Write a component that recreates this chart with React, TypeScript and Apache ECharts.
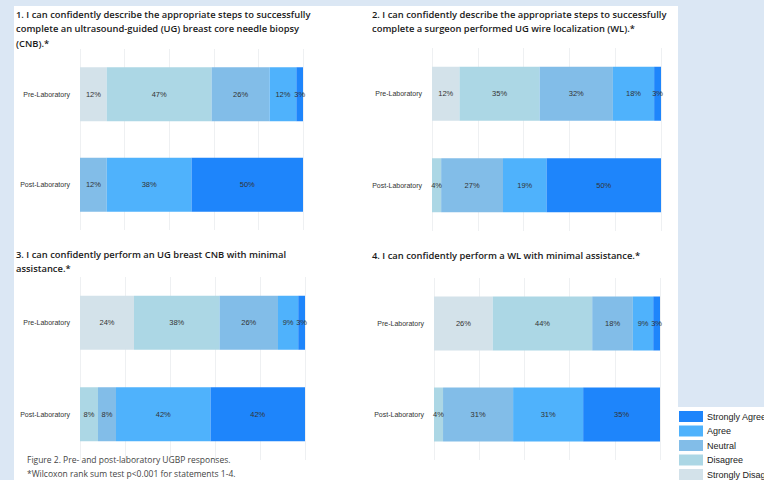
import React, { useEffect, useRef } from "react";
import * as echarts from "echarts";

const categories = ["Pre-Laboratory", "Post-Laboratory"];
const levels = ["Strongly Disagree", "Disagree", "Neutral", "Agree", "Strongly Agree"];
const legendOrder = ["Strongly Agree", "Agree", "Neutral", "Disagree", "Strongly Disagree"];
const levelColors = ["#d3e2ea", "#acd7e5", "#82bde8", "#4fb2fc", "#1e85fb"];

// values per level (SD, D, N, A, SA)
const q1Pre = [12, 47, 26, 12, 3];
const q1Post = [0, 0, 12, 38, 50];
const q2Pre = [12, 35, 32, 18, 3];
const q2Post = [0, 4, 27, 19, 50];
const q3Pre = [24, 38, 26, 9, 3];
const q3Post = [0, 8, 8, 42, 42];
const q4Pre = [26, 44, 18, 9, 3];
const q4Post = [0, 4, 31, 31, 35];

const titles = [
  "1. I can confidently describe the appropriate steps to successfully\ncomplete an ultrasound-guided (UG) breast core needle biopsy\n(CNB).*",
  "2. I can confidently describe the appropriate steps to successfully\ncomplete a surgeon performed UG wire localization (WL).*",
  "3. I can confidently perform an UG breast CNB with minimal\nassistance.*",
  "4. I can confidently perform a WL with minimal assistance.*",
];
const caption = "Figure 2. Pre- and post-laboratory UGBP responses.\n*Wilcoxon rank sum test p<0.001 for statements 1-4.";

const questions = [
  { pre: q1Pre, post: q1Post },
  { pre: q2Pre, post: q2Post },
  { pre: q3Pre, post: q3Post },
  { pre: q4Pre, post: q4Post },
];

const gridDefs = [
  { left: 80, width: 223, top: 49, height: 181 },
  { left: 432, width: 229, top: 48, height: 183 },
  { left: 80, width: 225, top: 277, height: 183 },
  { left: 434, width: 226, top: 278, height: 182 },
];
const titlePos = [
  { left: 16, top: 7 },
  { left: 372, top: 7 },
  { left: 16, top: 247 },
  { left: 372, top: 248 },
];

const FONT = "'Liberation Sans', Arial, sans-serif";
const TITLE_FONT = "'Open Sans', sans-serif";

export default function App() {
  const ref = useRef<HTMLDivElement>(null);
  useEffect(() => {
    if (!ref.current) return;
    const chart = echarts.init(ref.current, null, { renderer: "svg" });
    const series: any[] = [];
    questions.forEach((q, gi) => {
      levels.forEach((lv, li) => {
        series.push({
          name: lv,
          type: "bar",
          stack: "s" + gi,
          xAxisIndex: gi,
          yAxisIndex: gi,
          barWidth: 54,
          itemStyle: { color: levelColors[li] },
          label: {
            show: true,
            position: "inside",
            fontSize: 7.5,
            color: "#333",
            fontFamily: FONT,
            formatter: (p: any) => (p.value > 0 ? p.value + "%" : ""),
          },
          data: [q.pre[li], q.post[li]],
        });
      });
    });
    chart.setOption({
      animation: false,
      backgroundColor: "#dbe7f4",
      graphic: [
        { type: "rect", shape: { x: 14, y: 6, width: 664, height: 474 }, style: { fill: "#ffffff" }, z: -10 },
        { type: "rect", shape: { x: 678, y: 407, width: 86, height: 73 }, style: { fill: "#ffffff" }, z: -10 },
      ],
      title: [
        ...titles.map((t, i) => ({
          text: t,
          left: titlePos[i].left,
          top: titlePos[i].top,
          padding: 0,
          textStyle: { fontSize: 9.4, fontWeight: 600, lineHeight: 14.5, color: "#1a1a1a", fontFamily: TITLE_FONT },
        })),
        {
          text: caption,
          left: 27,
          top: 453,
          padding: 0,
          textStyle: { fontSize: 8.5, fontWeight: "normal", lineHeight: 13.5, color: "#444", fontFamily: TITLE_FONT },
        },
      ],
      legend: {
        data: legendOrder,
        orient: "vertical",
        left: 679,
        top: 411,
        padding: 0,
        itemWidth: 24,
        itemHeight: 11,
        itemGap: 3.5,
        icon: "rect",
        selectedMode: false,
        textStyle: { fontSize: 9, color: "#222", fontFamily: FONT, padding: [0, 0, 0, -1] },
      },
      grid: gridDefs.map((g) => ({ ...g, containLabel: false })),
      xAxis: gridDefs.map((_, i) => ({
        type: "value",
        gridIndex: i,
        min: 0,
        max: 100,
        interval: 20,
        axisLabel: { show: false },
        axisLine: { show: false },
        axisTick: { show: false },
        splitLine: { show: true, lineStyle: { color: "#eef0f2", width: 1 } },
      })),
      yAxis: gridDefs.map((_, i) => ({
        type: "category",
        gridIndex: i,
        data: categories,
        inverse: true,
        axisLine: { show: false },
        axisTick: { show: false },
        axisLabel: { fontSize: 7, color: "#333", margin: 10, fontFamily: FONT },
      })),
      series,
    });
    return () => chart.dispose();
  }, []);
  return <div ref={ref} style={{ position: "fixed", left: 0, top: 0, width: 764, height: 480 }} />;
}
